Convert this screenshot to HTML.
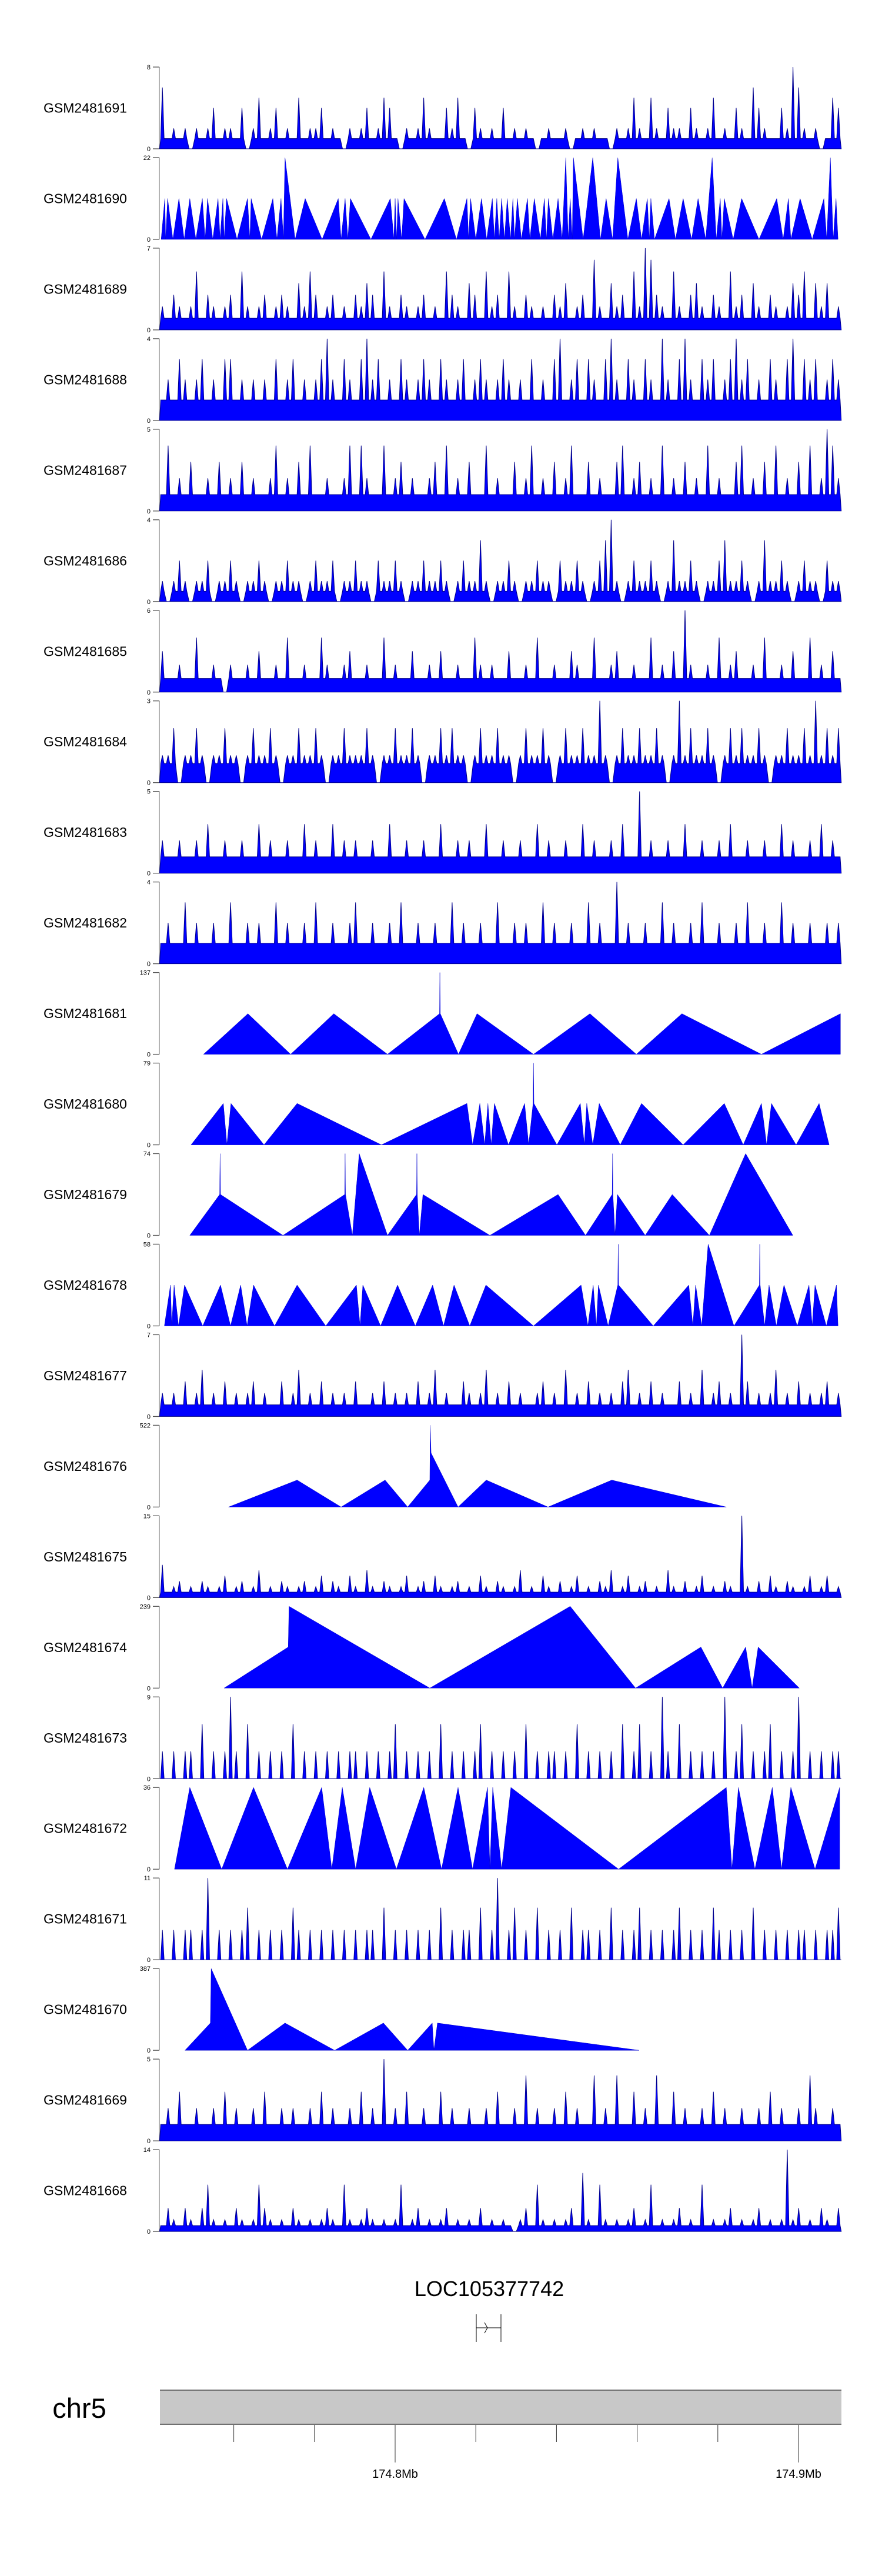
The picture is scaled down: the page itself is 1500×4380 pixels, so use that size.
<!DOCTYPE html>
<html><head><meta charset="utf-8"><style>
html,body{margin:0;padding:0;background:#fff;}
svg{display:block;}
text{font-family:"Liberation Sans",sans-serif;}
</style></head><body>
<svg id="chart" width="1500" height="4380" viewBox="0 0 1500 4380" xmlns="http://www.w3.org/2000/svg">
<rect x="0" y="0" width="1500" height="4380" fill="#fff"/>
<g id="tracks"></g>
<g id="gene-track">
<text x="832" y="3904" font-size="36" text-anchor="middle" fill="#000">LOC105377742</text>
<line x1="810" y1="3935" x2="810" y2="3982" stroke="#000" stroke-width="1"/>
<line x1="852" y1="3935" x2="852" y2="3982" stroke="#000" stroke-width="1"/>
<line x1="810" y1="3958" x2="852" y2="3958" stroke="#000" stroke-width="1"/>
<polyline points="824,3949 829,3958 824,3967" fill="none" stroke="#000" stroke-width="1"/>
</g>
<g id="ideogram">
<text x="135" y="4111" font-size="47" text-anchor="middle" fill="#000">chr5</text>
<rect x="272" y="4064" width="1159" height="58" fill="#c8c8c8"/>
<line x1="272" y1="4064" x2="1431" y2="4064" stroke="#707070" stroke-width="2"/>
<line x1="272" y1="4122" x2="1431" y2="4122" stroke="#707070" stroke-width="2"/>
<g id="gticks"></g>
</g>
</svg>
<script>
// genomic window (kb, relative to 174.8 Mb)
const winStart = -58.4;
const winEnd = 110.6;
const trackNames = ["GSM2481691","GSM2481690","GSM2481689","GSM2481688","GSM2481687","GSM2481686","GSM2481685","GSM2481684","GSM2481683","GSM2481682","GSM2481681","GSM2481680","GSM2481679","GSM2481678","GSM2481677","GSM2481676","GSM2481675","GSM2481674","GSM2481673","GSM2481672","GSM2481671","GSM2481670","GSM2481669","GSM2481668"];
const trackMax = [8,22,7,4,5,4,6,3,5,4,137,79,74,58,7,522,15,239,9,36,11,387,5,14];
const genomeTicksKb = [-80,-60,-40,-20,0,20,40,60,80,100];
const genomeTickLabels = ["","","","","174.8Mb","","","","","174.9Mb"];

// sparse (triangle) tracks: positions (kb rel. 174.8Mb) and values
const pos690 = [-58.0,-57.1,-56.9,-56.4,-55.1,-53.6,-52.3,-50.9,-49.4,-47.8,-47.1,-46.5,-45.2,-43.9,-43.4,-42.7,-42.4,-41.8,-39.2,-36.6,-36.0,-35.7,-33.1,-30.3,-29.3,-28.3,-27.7,-27.3,-24.8,-22.3,-18.1,-14.1,-13.4,-12.4,-11.7,-11.1,-6.0,-1.2,-0.3,0,0.4,0.7,1.6,2.2,7.4,12.2,15.2,17.8,18.2,18.7,20.0,21.4,22.7,24.1,24.6,25.2,25.8,26.4,27.1,27.8,28.6,29.2,29.6,30.3,31.3,32.8,33.4,34.5,36.0,37.0,37.5,38.0,39.1,40.4,41.4,42.3,42.9,43.4,43.9,44.2,46.6,49.0,50.9,52.3,53.9,55.2,57.7,59.8,61.1,62.5,63.0,63.4,64.3,67.9,69.5,71.4,73.5,75.1,77.0,78.6,79.6,80.6,81.0,81.6,83.8,85.9,90.2,94.6,96.2,97.5,98.1,100.4,103.4,106.3,107.0,107.9,108.6,109.3,109.8];
const val690 = [0,11,0,11,0,11,0,11,0,11, 0,11,0,11,0,11,0,11,0,11, 0,11,0,11,0,11,0,22,0,11, 0,11,0,11,0,11,0,11,0,11, 0,11,0,11,0,11,0,11,0,11, 0,11,0,11,0,11,0,11,0,11, 0,11,0,11,0,11,0,11,0,11, 0,11,0,11,0,22,0,11,0,22, 0,22,0,11,0,22,0,11,0,11, 0,11,0,11,0,11,0,11,0,22, 0,11,0,11,0,11,0,11,0,11, 0,11,0,11,0,22,0,11,0];
const pos681 = [-47.5,-36.5,-25.9,-15.2,-1.9,11.0,11.1,11.2,15.7,20.3,34.3,48.3,59.8,71.1,90.8,110.4];
const val681 = [0,68,0,68,0,68,137,68,0,68,0,68,0,68,0,68];
const pos680 = [-50.6,-42.6,-41.7,-40.7,-32.5,-24.3,-3.4,17.8,19.2,21.0,22.2,23.0,23.8,24.6,28.1,32.1,33.1,34.2,34.3,34.4,40.1,45.9,46.9,47.5,49.0,50.6,55.8,61.1,71.4,81.6,86.3,90.8,92.1,93.3,99.4,105.1,107.6];
const val680 = [0,40,0,40,0,40,0,40,0,40,0,40,0,40,0,40,0,40,79,40,0,40,0,40,0,40,0,40,0,40,0,40,0,40,0,40,0];
const pos679 = [-50.9,-43.5,-43.4,-43.3,-27.8,-12.5,-12.4,-12.3,-10.6,-8.9,-1.9,5.3,5.4,5.5,6.0,6.9,23.5,40.4,47.2,53.8,53.9,54.0,54.5,55.1,62.0,68.7,77.9,86.9,98.6];
const val679 = [0,37,74,37,0,37,74,37,0,74,0,37,74,37,0,37,0,37,0,37,74,37,0,37,0,37,0,74,0];
const pos678 = [-57.2,-55.7,-55.4,-54.8,-53.7,-52.2,-47.7,-43.3,-40.8,-38.3,-36.7,-35.1,-29.9,-24.3,-17.2,-9.6,-8.7,-8.0,-3.6,0.6,5.0,9.3,12.0,14.6,18.5,22.5,34.3,46.1,47.8,49.1,49.9,50.4,52.8,55.2,55.3,55.4,64.0,72.8,73.8,74.5,76.0,77.6,84.0,90.3,90.4,90.5,91.6,92.7,94.5,96.4,99.7,102.6,103.4,104.1,106.9,109.4,109.8];
const val678 = [0,29,0,29,0,29,0,29,0,29,0,29,0,29,0,29,0,29,0,29,0,29,0,29,0,29,0,29,0,29,0,29,0,29,58,29,0,29,0,29,0,58,0,29,58,29,0,29,0,29,0,29,0,29,0,29,0];
const pos676 = [-41.3,-24.3,-13.4,-2.5,3.1,8.6,8.7,8.9,15.6,22.6,37.9,53.7,82.1];
const val676 = [0,172,0,172,0,172,522,345,0,172,0,172,0];
const pos674 = [-42.4,-26.5,-26.3,8.6,43.4,59.6,75.8,81.2,86.9,88.5,90.0,100.2];
const val674 = [0,120,239,0,239,0,120,0,120,0,120,0];
const pos672 = [-54.7,-50.9,-43.0,-35.1,-26.7,-18.2,-15.7,-13.1,-9.8,-6.3,0.3,7.1,11.5,15.6,19.2,22.9,23.5,24.2,26.4,28.7,55.4,82.1,83.5,85.1,89.2,93.5,95.8,98.1,104.1,110.2];
const val672 = [0,36,0,36,0,36,0,36,0,36,0,36,0,36,0,36,0,36,0,36,0,36,0,36,0,36,0,36,0,36];
const pos670 = [-52.1,-45.8,-45.6,-36.6,-27.3,-15.0,-2.9,3.1,9.2,9.6,10.5,60.5];
const val670 = [0,129,387,0,129,0,129,0,129,0,129,0];

// dense tracks: coverage values in equal bins across the window
const cov691 = [6,1,2,1,2,0,2,1,2,4,1,2,2,1,4,0,2,5,1,2,4,1,2,1,5,1,2,2,4,1,2,1,0,2,1,2,4,1,2,5,4,1,0,2,1,2,5,2,1,1,4,2,5,1,0,4,2,1,2,1,4,1,2,1,2,1,0,1,2,1,1,2,0,1,2,1,2,1,1,0,2,1,2,5,2,1,5,2,1,4,2,2,1,4,2,1,2,5,1,2,1,4,2,1,6,4,2,1,1,4,2,8,6,2,1,2,0,1,5,4];
const cov689 = [2,1,3,2,1,2,5,1,3,2,1,2,3,1,5,2,1,2,3,1,2,3,2,1,4,2,5,3,1,2,3,1,2,1,3,2,4,3,1,5,2,1,3,2,1,2,3,1,2,1,5,3,2,1,4,3,1,5,2,3,1,5,2,1,3,2,1,2,1,3,2,4,1,2,3,1,6,2,1,4,2,3,1,5,2,7,6,3,2,1,5,2,1,3,4,2,1,3,2,1,5,2,3,1,4,2,1,3,2,1,2,4,3,5,1,4,2,4,1,2];
const cov688 = [1,2,1,3,2,1,2,3,1,2,1,3,3,1,2,1,2,1,2,1,3,1,2,3,1,2,1,2,3,4,2,1,3,2,1,3,4,2,3,1,2,1,3,2,1,2,3,2,1,3,2,1,2,3,1,2,3,2,1,2,3,2,1,2,1,3,1,2,1,3,4,1,2,3,1,3,2,1,3,4,2,1,3,2,1,3,2,1,4,2,1,3,4,2,1,3,2,3,1,2,3,4,2,3,1,2,1,3,2,1,3,4,1,3,2,3,1,2,3,2];
const cov687 = [1,4,1,2,1,3,1,1,2,1,3,1,2,1,3,1,2,1,1,2,4,1,2,1,3,1,4,1,1,2,1,1,2,4,1,4,2,1,1,4,1,2,3,1,2,1,1,2,3,1,4,1,2,1,3,1,1,4,1,2,1,1,3,1,2,4,1,2,1,3,1,2,4,1,1,3,1,2,1,1,3,4,1,2,3,1,2,1,4,1,2,1,3,1,2,1,4,1,2,1,1,3,4,1,2,1,3,1,4,1,2,1,3,1,4,1,2,5,4,2];
const cov686 = [1,0,1,2,1,0,1,1,2,0,1,1,2,1,0,1,1,2,1,0,1,1,2,1,1,0,1,2,1,1,2,0,1,1,2,1,1,0,2,1,1,2,1,0,1,1,2,1,1,2,1,0,1,2,1,1,3,1,0,1,1,2,1,0,1,1,2,1,1,0,2,1,1,2,1,0,1,2,3,4,1,0,1,2,1,1,2,1,0,1,3,1,1,2,1,0,1,1,2,3,1,1,2,1,0,1,3,1,1,2,1,0,1,2,1,1,0,2,1,1];
const cov685 = [3,1,1,2,1,1,4,1,1,2,1,0,2,1,1,2,1,3,1,1,2,1,4,1,1,2,1,1,4,2,1,1,2,3,1,1,2,1,1,4,1,2,1,1,3,1,1,2,1,3,1,1,2,1,1,4,2,1,2,1,1,3,1,1,2,1,4,1,1,2,1,1,3,2,1,1,4,1,1,2,3,1,1,2,1,1,4,1,2,1,3,1,6,2,1,1,2,1,4,1,2,3,1,1,2,1,4,1,1,2,1,3,1,1,4,1,2,1,3,1];
const cov684 = [1,1,2,0,1,1,2,1,0,1,1,2,1,1,0,1,2,1,1,2,1,0,1,1,2,1,1,2,1,0,1,1,2,1,1,1,2,1,0,1,1,2,1,1,2,1,0,1,1,2,1,2,1,1,0,1,2,1,1,2,1,1,0,1,2,1,1,2,1,0,1,2,1,1,2,1,1,3,1,0,1,2,1,1,2,1,1,2,1,0,1,3,1,2,1,1,2,1,0,1,2,1,2,1,1,2,1,0,1,1,2,1,1,2,1,3,1,2,1,2];
const cov683 = [2,1,1,2,1,1,2,1,3,1,1,2,1,1,2,1,1,3,1,2,1,1,2,1,1,3,1,2,1,1,3,1,2,1,2,1,1,2,1,1,3,1,1,2,1,1,2,1,1,3,1,1,2,1,2,1,1,3,1,1,2,1,1,2,1,1,3,1,2,1,1,2,1,1,3,1,2,1,1,2,1,3,1,1,5,1,2,1,1,2,1,1,3,1,1,2,1,1,2,1,3,1,1,2,1,1,2,1,1,3,1,2,1,1,2,1,3,1,2,1];
const cov682 = [1,2,1,1,3,1,2,1,1,2,1,1,3,1,1,2,1,2,1,1,3,1,2,1,1,2,1,3,1,1,2,1,1,2,3,1,1,2,1,1,2,1,3,1,1,2,1,1,2,1,1,3,1,2,1,1,2,1,1,3,1,1,2,1,2,1,1,3,1,2,1,1,2,1,1,3,1,2,1,1,4,1,2,1,1,2,1,1,3,1,2,1,1,2,1,3,1,1,2,1,1,2,1,3,1,1,2,1,1,3,1,2,1,1,2,1,1,2,1,2];
const cov677 = [2,1,2,1,3,1,2,4,1,2,1,3,1,2,1,2,3,1,2,1,1,3,1,2,4,1,2,1,3,1,2,1,2,1,3,1,1,2,1,3,1,2,1,2,1,3,1,2,4,1,2,1,1,3,2,1,2,4,1,2,1,3,1,2,1,1,2,3,1,2,1,4,1,2,1,3,1,2,1,2,1,3,4,1,2,1,3,1,2,1,1,3,1,2,1,4,1,2,3,1,2,1,7,3,1,2,1,2,4,1,2,1,3,1,2,1,2,3,1,2];
const cov675 = [6,1,2,3,1,2,1,3,2,1,2,4,1,2,3,1,2,5,1,2,1,3,2,1,2,3,1,2,4,1,3,2,1,4,2,1,5,2,1,3,2,1,2,4,1,2,3,1,4,2,1,2,3,1,2,1,4,2,1,3,2,1,2,5,1,2,1,4,2,1,3,1,2,4,1,2,1,3,2,5,1,2,4,1,2,3,1,2,1,5,2,1,3,1,2,4,1,2,1,3,2,1,15,2,1,3,1,4,2,1,3,2,1,2,4,1,2,4,1,2];
const cov673 = [3,0,3,0,3,3,0,6,0,3,0,3,9,3,0,6,0,3,0,3,0,3,0,6,0,3,0,3,0,3,0,3,0,3,3,0,3,0,3,0,3,6,0,3,0,3,0,3,0,6,0,3,0,3,0,3,6,0,3,0,3,0,3,0,6,0,3,0,3,3,0,3,0,6,0,3,0,3,0,3,0,6,0,3,6,0,3,0,9,3,0,6,0,3,0,3,0,3,0,9,0,3,6,0,3,0,3,6,0,3,0,3,9,0,3,0,3,0,3,3];
const cov671 = [4,0,4,0,4,4,0,4,11,0,4,0,4,0,4,7,0,4,0,4,0,4,0,7,4,0,4,0,4,0,4,0,4,0,4,0,4,4,0,7,0,4,0,4,0,4,0,4,0,7,0,4,0,4,4,0,7,0,4,11,0,4,7,0,4,0,7,0,4,0,4,0,7,0,4,4,0,4,0,7,0,4,0,4,7,0,4,0,4,0,4,7,0,4,0,4,0,7,4,0,4,0,4,0,7,0,4,0,4,0,4,0,4,4,0,4,0,4,4,7];
const cov669 = [1,2,1,3,1,1,2,1,1,2,1,3,1,2,1,1,2,1,3,1,1,2,1,2,1,1,2,1,3,1,2,1,1,2,1,3,1,2,1,5,1,2,1,3,1,1,2,1,1,3,1,2,1,1,2,1,1,2,1,3,1,1,2,1,4,1,2,1,1,2,1,3,1,2,1,1,4,1,2,1,4,1,1,3,1,2,1,4,1,1,3,1,2,1,1,2,1,3,1,2,1,1,2,1,1,2,1,3,1,2,1,1,2,1,4,2,1,1,2,1];
const cov668 = [1,4,2,1,4,2,1,4,8,2,1,2,1,4,2,1,2,8,4,2,1,2,1,4,2,1,2,1,2,4,2,1,8,2,1,2,4,2,1,2,1,2,8,1,2,4,1,2,1,2,4,1,2,1,2,1,4,1,2,1,2,1,0,2,4,1,8,2,1,2,1,2,4,1,10,2,1,8,2,1,2,1,2,4,1,2,8,1,2,1,2,4,1,2,1,8,1,2,1,2,4,1,2,1,2,4,1,2,1,2,14,2,4,1,2,1,4,2,1,4];
// typical background coverage level per dense track
const bgLevel = {0:1,2:1,3:1,4:1,5:0.5,6:1,7:0.7,8:1,9:1,14:1,16:1,18:0,20:0,22:1,23:1};

const NS = "http://www.w3.org/2000/svg";
const plotLeft = 272, plotRight = 1431;
const refKb = 0, refPx = 672, pxPerKb = 6.86;
function xScale(kb){ return refPx + (kb - refKb) * pxPerKb; }
const trackTop0 = 114, trackPitch = 153.96, trackH = 139;
function yScale(v, max, top){ return top + trackH - (v / max) * trackH; }

const sparse = {1:[pos690,val690],10:[pos681,val681],11:[pos680,val680],12:[pos679,val679],13:[pos678,val678],15:[pos676,val676],17:[pos674,val674],19:[pos672,val672],21:[pos670,val670]};
const dense = {0:cov691,2:cov689,3:cov688,4:cov687,5:cov686,6:cov685,7:cov684,8:cov683,9:cov682,14:cov677,16:cov675,18:cov673,20:cov671,22:cov669,23:cov668};

const tracksG = document.getElementById('tracks');
function mk(tag, attrs){ const e = document.createElementNS(NS, tag); for (const k in attrs) e.setAttribute(k, attrs[k]); return e; }

trackNames.forEach((name, i) => {
  const top = trackTop0 + i * trackPitch;
  const bot = top + trackH;
  const max = trackMax[i];
  const g = mk('g', {});
  
  
  const lab = mk('text', {x: 74, y: top + trackH / 2 + 8, 'font-size': 23, fill: '#000'});
  
  
  lab.textContent = name;
  g.appendChild(lab);
  const ax = mk('line', {x1: 271, y1: top, x2: 271, y2: bot, stroke: '#8a8a8a', 'stroke-width': 1.3});
  
  
  g.appendChild(ax);
  [[max, top], [0, bot]].forEach(([v, y]) => {
    const t = mk('line', {x1: 260, y1: y, x2: 271, y2: y, stroke: '#555', 'stroke-width': 1.3});
    
    
    g.appendChild(t);
    const tl = mk('text', {x: 256, y: y + 4, 'font-size': 11, 'text-anchor': 'end', fill: '#000'});
    
    
    tl.textContent = String(v);
    g.appendChild(tl);
  });
  let pts = [];
  if (sparse[i]) {
    const [p, v] = sparse[i];
    pts.push([xScale(p[0]), bot]);
    for (let k = 0; k < p.length; k++) pts.push([Math.min(plotRight, xScale(p[k])), yScale(v[k], max, top)]);
    pts.push([Math.min(plotRight, xScale(p[p.length - 1])), bot]);
  } else {
    const c = dense[i];
    const bg = bgLevel[i];
    const step = (winEnd - winStart) / c.length;
    pts.push([xScale(winStart), bot]);
    for (let k = 0; k < c.length; k++) {
      const kb = winStart + (k + 0.5) * step;
      const fl = Math.min(bg, c[k]);
      pts.push([xScale(kb - step * 0.3), yScale(fl, max, top)]);
      pts.push([xScale(kb), yScale(c[k], max, top)]);
      pts.push([xScale(kb + step * 0.3), yScale(fl, max, top)]);
    }
    pts.push([xScale(winEnd), bot]);
  }
  const poly = mk('polygon', {points: pts.map(q => q[0].toFixed(1) + ',' + q[1].toFixed(1)).join(' '), fill: '#0000ff', stroke: sparse[i] ? '#0000cc' : '#00008b', 'stroke-width': sparse[i] ? 0.5 : 1, 'stroke-linejoin': 'miter'});
  
  
  g.appendChild(poly);
  tracksG.appendChild(g);
});

const gt = document.getElementById('gticks');
genomeTicksKb.forEach((kb, j) => {
  const x = xScale(kb);
  if (x < plotLeft + 20 || x > plotRight) return;
  const long = genomeTickLabels[j] !== "";
  const l = mk('line', {x1: x, y1: 4123, x2: x, y2: long ? 4187 : 4152, stroke: '#333', 'stroke-width': 1});
  
  
  gt.appendChild(l);
  if (long) {
    const t = mk('text', {x: x, y: 4213, 'font-size': 20, 'text-anchor': 'middle', fill: '#000'});
    
    
    t.textContent = genomeTickLabels[j];
    gt.appendChild(t);
  }
});
</script>
</body></html>
